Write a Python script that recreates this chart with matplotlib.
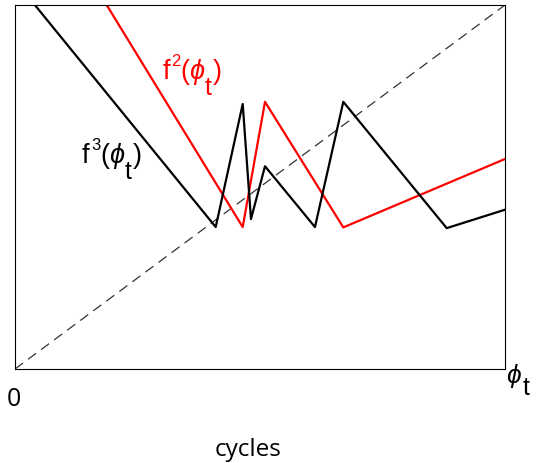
import matplotlib
matplotlib.use("Agg")
import matplotlib.pyplot as plt
from matplotlib.transforms import offset_copy, IdentityTransform

plt.rcParams['font.family'] = ['Liberation Sans', 'DejaVu Sans']
plt.rcParams['mathtext.fontset'] = 'custom'
plt.rcParams['mathtext.rm'] = 'Liberation Sans'
plt.rcParams['mathtext.it'] = 'Liberation Sans:italic'
plt.rcParams['mathtext.fallback'] = 'stixsans'

# Data (phase in normalized units)
diag_x = [0.0, 1.0]
diag_y = [0.0, 1.0]

f2_x = [0.0, 0.4647, 0.5102, 0.670, 1.0]
f2_y = [1.411, 0.390, 0.734, 0.389, 0.577]

f3_x = [0.0, 0.4096, 0.4647, 0.4816, 0.5102, 0.6122, 0.670, 0.881, 1.0]
f3_y = [1.067, 0.390, 0.728, 0.412, 0.557, 0.390, 0.734, 0.387, 0.4376]

W, H = 540, 464
fig = plt.figure(figsize=(W/100, H/100), dpi=100)
ax = fig.add_axes([15/W, 94/H, 490/W, 364/H])

ax.plot(diag_x, diag_y, color='#333333', lw=0.9, ls=(0, (8, 5)))
ax.plot(f2_x, f2_y, color='#ff0000', lw=1.6)
ax.plot(f3_x, f3_y, color='black', lw=1.6)

ax.set_xlim(0, 1)
ax.set_ylim(0, 1)
ax.set_xticks([])
ax.set_yticks([])
for s in ax.spines.values():
    s.set_linewidth(0.8)
    s.set_color('black')


def put(base, x, y, text, size, color, dx, dy):
    tr = offset_copy(base, fig=fig, x=dx, y=dy, units='dots')
    fig.text(x, y, text, transform=tr, fontsize=size, color=color,
             ha='left', va='baseline')


def label(base, x, y, power, color):
    put(base, x, y, 'f', 19.5, color, -0.5, 0)
    put(base, x, y, power, 12, color, 8.5, 13)
    put(base, x, y, r'($\phi$', 19.5, color, 17, 0)
    put(base, x, y, 't', 18, color, 42, -16)
    put(base, x, y, ')', 19.5, color, 50.5, 0)


label(ax.transData, 0.3014, 0.7995, '2', '#ff0000')
label(ax.transData, 0.138, 0.568, '3', 'black')

pix = IdentityTransform()
put(pix, 506, H - 383, r'$\phi$', 19, 'black', 0, 0)
put(pix, 522.5, H - 395, 't', 18, 'black', 0, 0)

fig.text(14, H - 406.5, '0', transform=pix, fontsize=18, family='Open Sans',
         ha='center', va='baseline')
fig.text(248, H - 456.5, 'cycles', transform=pix, fontsize=17.5, family='Open Sans',
         ha='center', va='baseline')

fig.savefig('out.png', dpi=100)
